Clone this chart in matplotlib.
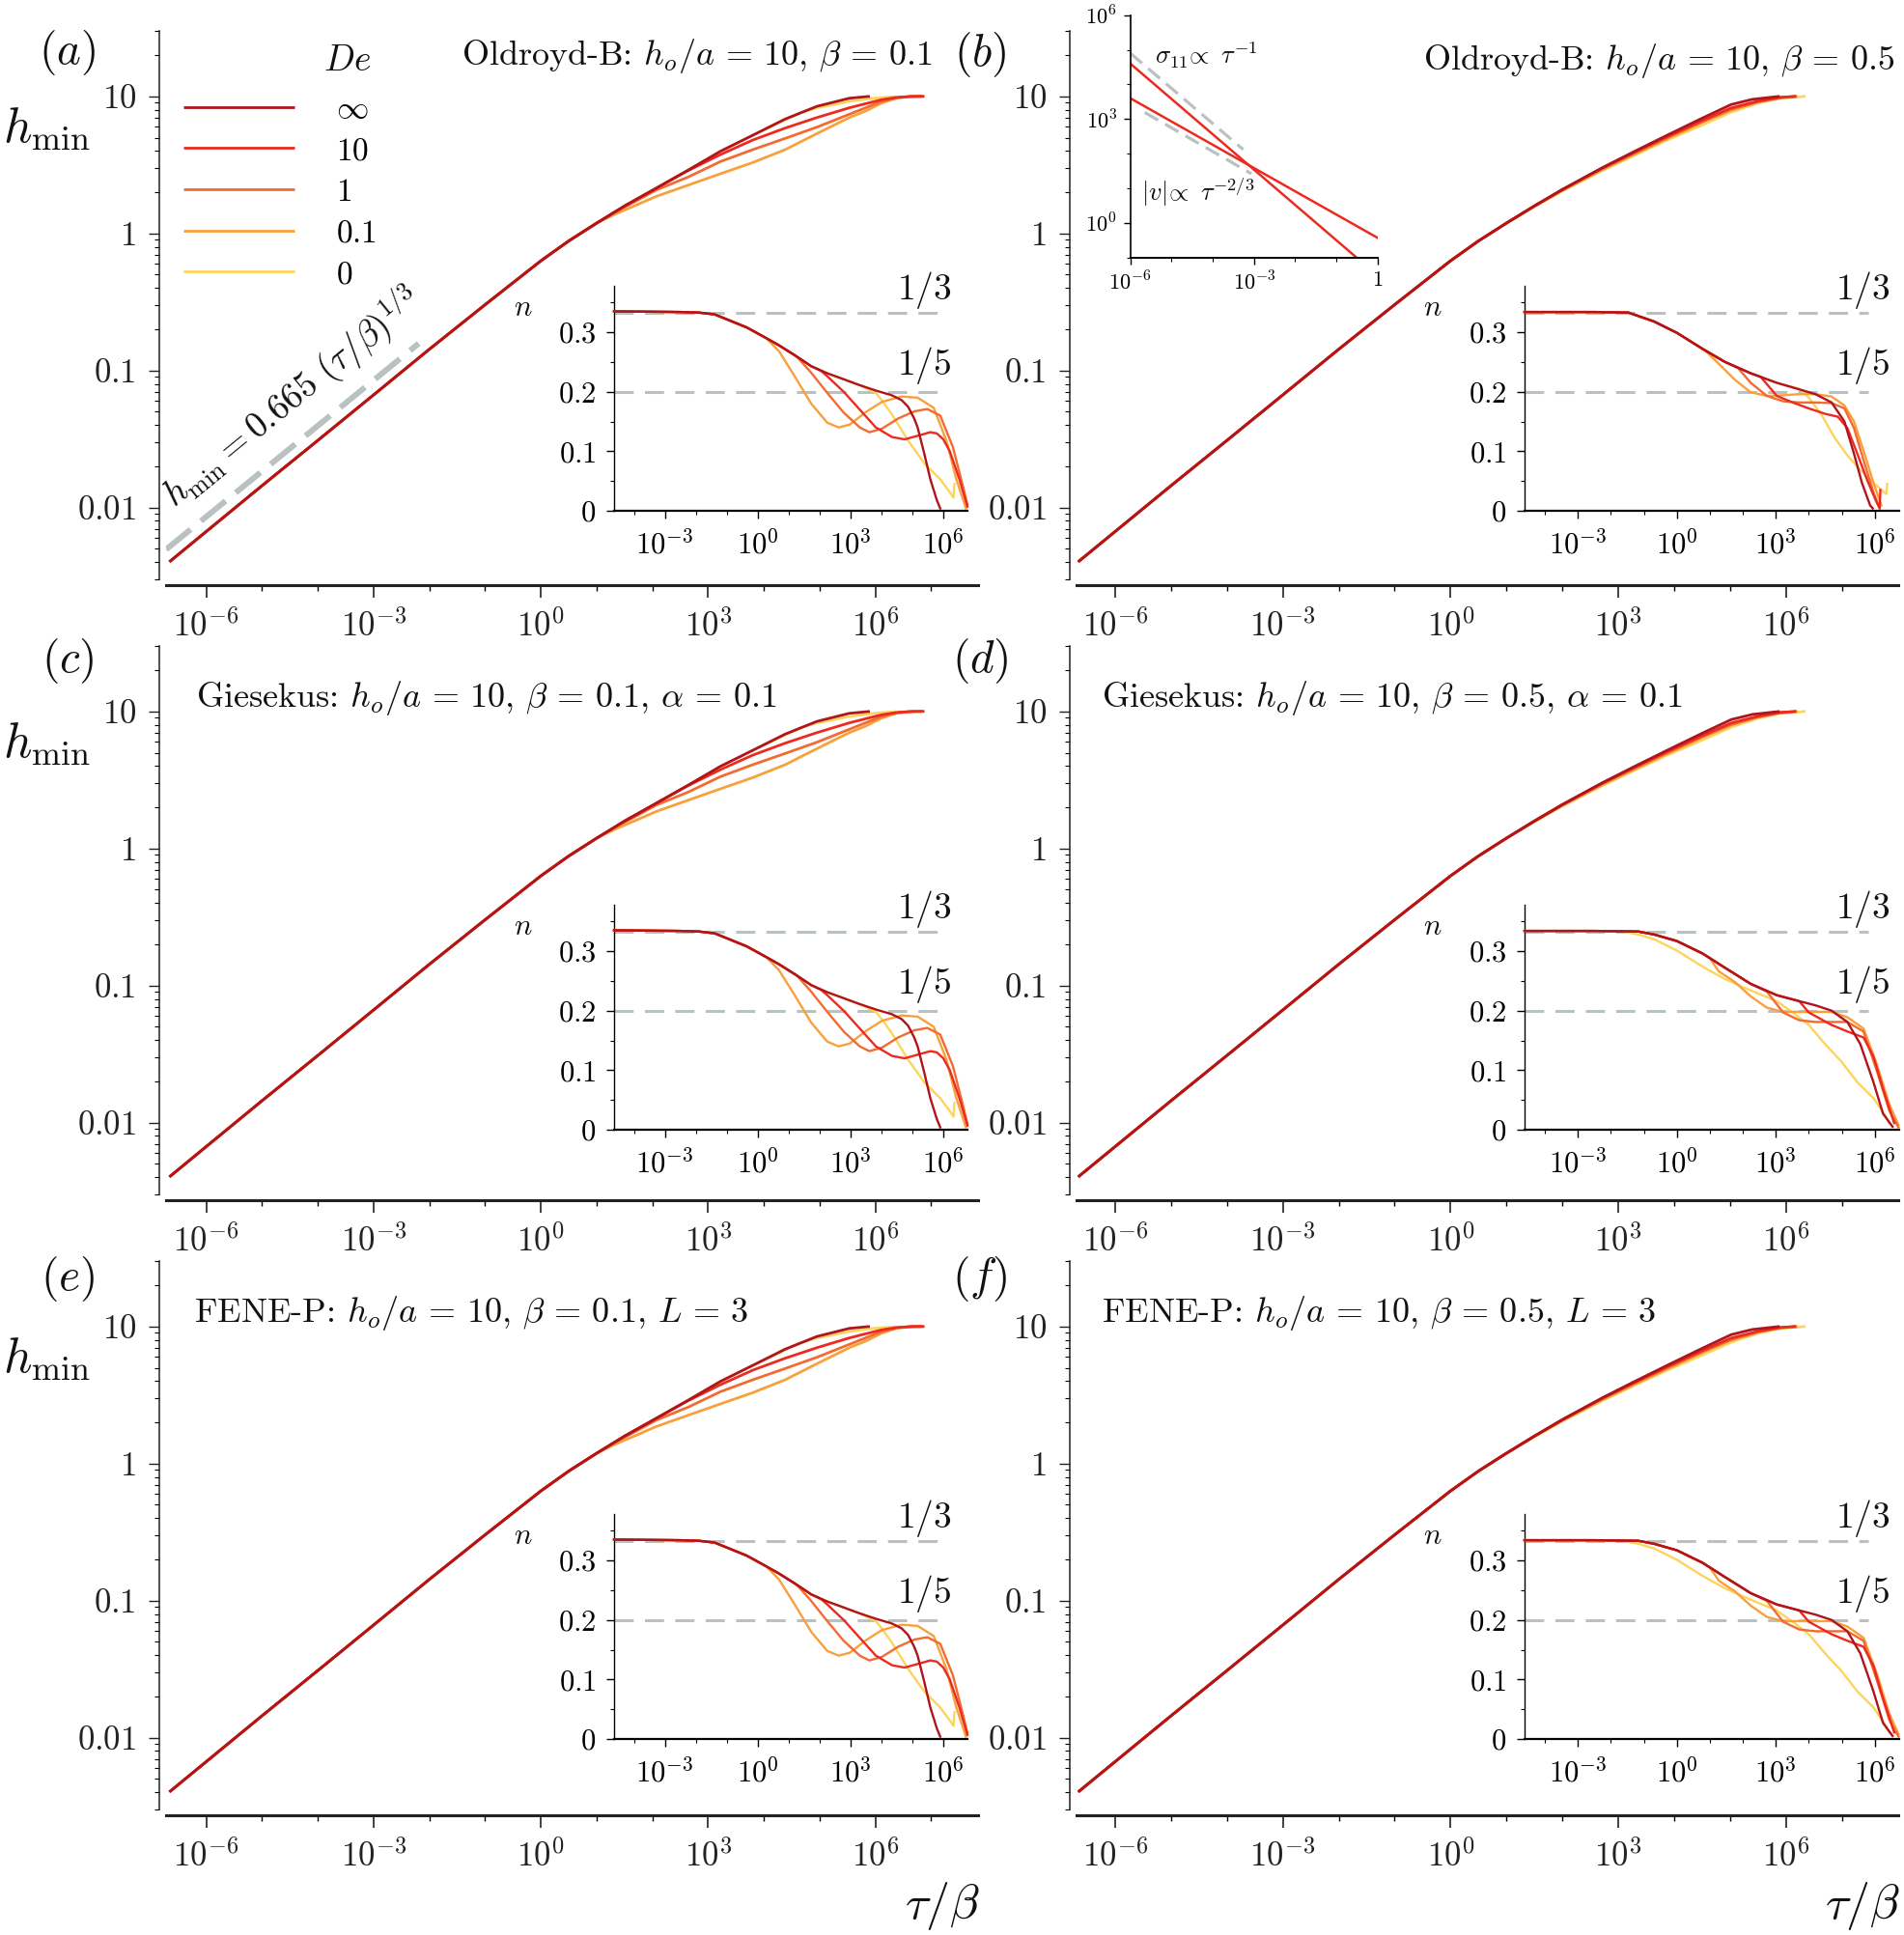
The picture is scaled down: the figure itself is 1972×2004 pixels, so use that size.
import numpy as np
import matplotlib
matplotlib.use("Agg")
import matplotlib.pyplot as plt
from matplotlib.ticker import NullFormatter

plt.rcParams['font.family'] = ['cmr10', 'DejaVu Serif']
plt.rcParams['mathtext.fontset'] = 'cm'
plt.rcParams['axes.formatter.use_mathtext'] = True

# ------------------------------------------------------------------
# DATA (log10 values)
# ------------------------------------------------------------------
de_labels = [r'$\infty$', r'$10$', r'$1$', r'$0.1$', r'$0$']
de_colors = ['#B0141C', '#EC2A1F', '#F36B30', '#F8A03A', '#FDD45C']

# main panels: h_min vs tau/beta, shared early part
lt_common = [-6.66, -5.0, -4.0, -3.0, -2.0, -1.0, 0.0, 0.5, 1.0]
lh_common = [-2.395, -1.84, -1.51, -1.178, -0.845, -0.52, -0.2, -0.055, 0.075]

# left column (beta = 0.1)
hL_t_inf = [1.5, 2.07, 2.6, 3.22, 3.8, 4.38, 4.95, 5.53, 5.9]
hL_h_inf = [0.2, 0.33, 0.452, 0.599, 0.716, 0.834, 0.927, 0.986, 1.0]
hL_t_10 = [1.5, 2.07, 2.6, 3.22, 3.8, 4.38, 4.95, 5.53, 5.82, 6.11, 6.39, 6.68, 6.88]
hL_h_10 = [0.2, 0.33, 0.45, 0.575, 0.681, 0.768, 0.845, 0.916, 0.946, 0.975, 0.993, 1.0, 1.0]
hL_t_1 = [1.3, 1.7, 2.07, 2.64, 3.22, 3.8, 4.38, 4.95, 5.53, 5.82, 6.11, 6.39, 6.6, 6.85]
hL_h_1 = [0.148, 0.235, 0.317, 0.411, 0.524, 0.611, 0.693, 0.775, 0.869, 0.916, 0.963, 0.99, 0.998, 1.0]
hL_t_01 = [1.3, 1.7, 2.07, 2.64, 3.22, 3.8, 4.38, 4.95, 5.53, 5.82, 6.11, 6.37, 6.6, 6.85]
hL_h_01 = [0.135, 0.205, 0.27, 0.352, 0.435, 0.517, 0.611, 0.728, 0.845, 0.892, 0.951, 0.986, 0.998, 1.0]
hL_t_0 = [1.5, 2.07, 2.6, 3.22, 3.8, 4.38, 4.66, 4.95, 5.24, 5.53, 5.82, 6.11, 6.37]
hL_h_0 = [0.2, 0.33, 0.452, 0.599, 0.716, 0.829, 0.881, 0.916, 0.939, 0.963, 0.979, 0.991, 0.998]

# right column (beta = 0.5)
hR_t_inf = [1.5, 2.0, 2.72, 3.3, 3.87, 4.5, 5.02, 5.4, 5.89]
hR_h_inf = [0.2, 0.32, 0.48, 0.6, 0.715, 0.84, 0.94, 0.978, 1.0]
hR_t_10 = [1.5, 2.0, 2.72, 3.3, 3.87, 4.5, 5.02, 5.5, 5.9, 6.18]
hR_h_10 = [0.2, 0.32, 0.478, 0.594, 0.705, 0.823, 0.915, 0.965, 0.993, 1.0]
hR_t_1 = [1.5, 2.0, 2.72, 3.3, 3.87, 4.5, 5.02, 5.5, 5.9, 6.2]
hR_h_1 = [0.2, 0.318, 0.474, 0.588, 0.698, 0.815, 0.905, 0.96, 0.99, 1.0]
hR_t_01 = [1.5, 2.0, 2.72, 3.3, 3.87, 4.5, 5.02, 5.5, 5.9, 6.2]
hR_h_01 = [0.197, 0.312, 0.465, 0.58, 0.69, 0.81, 0.9, 0.958, 0.99, 1.0]
hR_t_0 = [1.5, 2.0, 2.72, 3.3, 3.87, 4.5, 5.02, 5.5, 5.9, 6.35]
hR_h_0 = [0.195, 0.31, 0.46, 0.572, 0.68, 0.79, 0.885, 0.95, 0.985, 1.0]

# insets: local slope n vs tau/beta
# left column insets (a, c, e)
nL_head_t = [-4.64, -2.5, -1.9, -1.39, -0.87, -0.35, 0.0, 0.28]
nL_head_n = [0.335, 0.334, 0.333, 0.330, 0.319, 0.308, 0.298, 0.290]
nL_t_inf = [0.69, 1.21, 1.73, 2.25, 2.78, 3.30, 3.82, 4.34, 4.65, 4.86, 5.06, 5.17, 5.38, 5.58, 5.79, 5.90]
nL_n_inf = [0.278, 0.261, 0.243, 0.231, 0.221, 0.211, 0.202, 0.194, 0.186, 0.175, 0.155, 0.140, 0.097, 0.053, 0.018, 0.004]
nL_t_10 = [0.69, 1.21, 1.73, 2.05, 2.25, 2.78, 3.30, 3.82, 4.34, 4.75, 5.17, 5.58, 5.79, 6.0, 6.21, 6.52, 6.78]
nL_n_10 = [0.278, 0.261, 0.243, 0.235, 0.226, 0.200, 0.170, 0.140, 0.124, 0.120, 0.126, 0.132, 0.130, 0.120, 0.100, 0.053, 0.007]
nL_t_1 = [0.69, 1.21, 1.32, 1.73, 2.25, 2.78, 3.30, 3.61, 4.02, 4.54, 5.06, 5.48, 5.90, 6.31, 6.63, 6.78]
nL_n_1 = [0.278, 0.261, 0.256, 0.232, 0.198, 0.165, 0.140, 0.132, 0.138, 0.155, 0.167, 0.171, 0.160, 0.107, 0.042, 0.010]
nL_t_01 = [0.69, 1.21, 1.73, 2.25, 2.62, 2.98, 3.50, 4.02, 4.65, 5.17, 5.69, 6.10, 6.42, 6.73]
nL_n_01 = [0.268, 0.225, 0.180, 0.148, 0.140, 0.145, 0.166, 0.183, 0.192, 0.190, 0.173, 0.118, 0.053, 0.004]
nL_t_0 = [0.69, 1.21, 1.73, 2.25, 2.78, 3.30, 3.82, 4.02, 4.34, 4.86, 5.38, 5.90, 6.2, 6.33, 6.36]
nL_n_0 = [0.278, 0.261, 0.243, 0.231, 0.221, 0.211, 0.198, 0.185, 0.162, 0.118, 0.080, 0.053, 0.032, 0.022, 0.045]

# right column, top inset (b)
nB_head_t = [-4.62, -2.5, -1.47, -0.69, 0.0, 0.78]
nB_head_n = [0.334, 0.334, 0.333, 0.318, 0.299, 0.272]
nB_t_inf = [1.46, 2.24, 3.03, 3.71, 4.2, 4.69, 5.08, 5.37, 5.61, 5.86, 5.94]
nB_n_inf = [0.250, 0.231, 0.215, 0.204, 0.196, 0.182, 0.150, 0.096, 0.047, 0.009, 0.004]
nB_t_10 = [1.46, 2.24, 2.54, 3.03, 3.51, 4.0, 4.49, 4.88, 5.17, 5.47, 5.76, 6.05, 6.15, 6.17]
nB_n_10 = [0.250, 0.231, 0.225, 0.193, 0.182, 0.172, 0.163, 0.158, 0.139, 0.096, 0.053, 0.015, 0.004, 0.035]
nB_t_1 = [1.46, 1.85, 2.24, 2.73, 3.22, 3.71, 4.2, 4.69, 5.08, 5.37, 5.66, 5.96, 6.15]
nB_n_1 = [0.250, 0.240, 0.215, 0.193, 0.184, 0.182, 0.182, 0.181, 0.172, 0.139, 0.085, 0.031, 0.004]
nB_t_01 = [0.88, 1.27, 1.76, 2.24, 2.73, 3.22, 3.71, 4.2, 4.69, 5.08, 5.37, 5.66, 5.96, 6.2]
nB_n_01 = [0.268, 0.247, 0.220, 0.199, 0.193, 0.194, 0.196, 0.196, 0.192, 0.177, 0.150, 0.101, 0.047, 0.009]
nB_t_0 = [1.46, 2.24, 3.03, 3.71, 4.0, 4.39, 4.78, 5.17, 5.56, 5.96, 6.35, 6.38]
nB_n_0 = [0.250, 0.231, 0.215, 0.205, 0.190, 0.161, 0.123, 0.093, 0.069, 0.047, 0.028, 0.045]

# right column, lower insets (d, f)
nD_head_t = [-4.62, -2.5, -1.17, -0.69, 0.0, 0.78]
nD_head_n = [0.334, 0.334, 0.333, 0.328, 0.317, 0.296]
nD_t_inf = [1.46, 2.24, 3.03, 3.71, 4.2, 4.69, 5.17, 5.56, 5.96, 6.25, 6.54]
nD_n_inf = [0.272, 0.245, 0.226, 0.216, 0.209, 0.200, 0.181, 0.144, 0.080, 0.027, 0.005]
nD_t_10 = [1.46, 2.24, 3.03, 3.71, 4.0, 4.69, 5.17, 5.66, 5.96, 6.25, 6.59]
nD_n_10 = [0.272, 0.245, 0.226, 0.216, 0.197, 0.176, 0.165, 0.155, 0.123, 0.069, 0.011]
nD_t_1 = [1.46, 2.24, 2.73, 3.22, 3.71, 4.2, 4.69, 5.17, 5.66, 6.05, 6.44, 6.72]
nD_n_1 = [0.272, 0.245, 0.232, 0.197, 0.184, 0.181, 0.181, 0.181, 0.165, 0.101, 0.032, 0.004]
nD_t_01 = [1.0, 1.27, 1.76, 2.24, 2.73, 3.22, 3.71, 4.2, 4.69, 5.17, 5.66, 6.05, 6.44, 6.72]
nD_n_01 = [0.288, 0.266, 0.248, 0.224, 0.205, 0.198, 0.198, 0.198, 0.198, 0.189, 0.170, 0.112, 0.043, 0.008]
nD_t_0 = [-4.62, -2.5, -1.66, -1.17, -0.69, 0.0, 0.78, 1.46, 2.24, 3.03, 3.51, 4.0, 4.49, 4.98, 5.47, 5.96, 6.35, 6.44]
nD_n_0 = [0.334, 0.334, 0.333, 0.328, 0.320, 0.301, 0.274, 0.253, 0.234, 0.216, 0.197, 0.176, 0.144, 0.115, 0.080, 0.053, 0.021, 0.011]

n_levels = [1/3, 1/5]

# guide line in (a): h_min = 0.665 (tau/beta)^(1/3), drawn offset
guide_lt = [-6.72, -2.19]
guide_lh = [-2.305, -0.803]

# small inset in (b)
sig_lt = [-6.0, -0.51]
sig_lv = [4.6, -1.0]
vel_lt = [-6.0, 0.0]
vel_lv = [3.6, -0.43]
sig_guide_lt = [-6.0, -3.26]
sig_guide_lv = [4.9, 2.12]
vel_guide_lt = [-5.65, -3.06]
vel_guide_lv = [3.19, 1.42]

titles = [r'Oldroyd-B: $h_o/a\, =\, 10$, $\beta\, =\, 0.1$',
          r'Oldroyd-B: $h_o/a\, =\, 10$, $\beta\, =\, 0.5$',
          r'Giesekus: $h_o/a\, =\, 10$, $\beta\, =\, 0.1$, $\alpha\, =\, 0.1$',
          r'Giesekus: $h_o/a\, =\, 10$, $\beta\, =\, 0.5$, $\alpha\, =\, 0.1$',
          r'FENE-P: $h_o/a\, =\, 10$, $\beta\, =\, 0.1$, $L\, =\, 3$',
          r'FENE-P: $h_o/a\, =\, 10$, $\beta\, =\, 0.5$, $L\, =\, 3$']
panel_tags = ['(a)', '(b)', '(c)', '(d)', '(e)', '(f)']

# ------------------------------------------------------------------
# LAYOUT
# ------------------------------------------------------------------
W, H = 1972, 2004
fig = plt.figure(figsize=(W / 100, H / 100), dpi=100)


def px_rect(x0, y0, x1, y1):
    return [x0 / W, 1 - y1 / H, (x1 - x0) / W, (y1 - y0) / H]


def fxy(x, y):
    return x / W, 1 - y / H


main_cols = [(172, 1013), (1115, 1966)]
main_xlims = [(-6.72, 7.84), (-6.69, 8.01)]
row_top = [31.6, 668.6, 1305.6]
main_h = 568.4
inset_cols = [(636, 1002), (1579, 1967)]
inset_xlims = [(-4.64, 6.78), (-4.62, 6.74)]
inset_bottom = [529, 1170, 1801]
inset_h = 233

GRAY = '#BAC1C1'
TXT = '#111111'


def P(v):
    return 10.0 ** np.asarray(v, dtype=float)


def main_curves(col):
    if col == 0:
        tails = [(hL_t_inf, hL_h_inf), (hL_t_10, hL_h_10), (hL_t_1, hL_h_1),
                 (hL_t_01, hL_h_01), (hL_t_0, hL_h_0)]
    else:
        tails = [(hR_t_inf, hR_h_inf), (hR_t_10, hR_h_10), (hR_t_1, hR_h_1),
                 (hR_t_01, hR_h_01), (hR_t_0, hR_h_0)]
    return [(lt_common + list(t), lh_common + list(h)) for t, h in tails]


def inset_curves(col, row):
    if col == 0:
        ht, hn = nL_head_t, nL_head_n
        tails = [(nL_t_inf, nL_n_inf), (nL_t_10, nL_n_10), (nL_t_1, nL_n_1),
                 (nL_t_01, nL_n_01), (nL_t_0, nL_n_0)]
        return [(ht + t, hn + n) for t, n in tails]
    if row == 0:
        ht, hn = nB_head_t, nB_head_n
        tails = [(nB_t_inf, nB_n_inf), (nB_t_10, nB_n_10), (nB_t_1, nB_n_1),
                 (nB_t_01, nB_n_01), (nB_t_0, nB_n_0)]
        return [(ht + t, hn + n) for t, n in tails]
    ht, hn = nD_head_t, nD_head_n
    tails = [(nD_t_inf, nD_n_inf), (nD_t_10, nD_n_10), (nD_t_1, nD_n_1),
             (nD_t_01, nD_n_01)]
    out = [(ht + t, hn + n) for t, n in tails]
    out.append((nD_t_0, nD_n_0))
    return out


def style_main(ax, xl):
    ax.set_xscale('log')
    ax.set_yscale('log')
    ax.set_xlim(10 ** xl[0], 10 ** xl[1])
    ax.set_ylim(10 ** -2.523, 10 ** 1.48)
    for s in ['top', 'right']:
        ax.spines[s].set_visible(False)
    ax.spines['left'].set_position(('outward', 5.4))
    ax.spines['bottom'].set_position(('outward', 4.3))
    ax.spines['bottom'].set_linewidth(2.2)
    ax.spines['left'].set_linewidth(1.1)
    ax.spines['bottom'].set_color('#222222')
    ax.spines['left'].set_color('#222222')
    ax.set_xticks([1e-6, 1e-3, 1, 1e3, 1e6])
    ax.set_xticklabels([r'$10^{-6}$', r'$10^{-3}$', r'$10^{0}$', r'$10^{3}$', r'$10^{6}$'])
    ax.set_xticks([10.0 ** k for k in range(-6, 8)], minor=True)
    ax.xaxis.set_minor_formatter(NullFormatter())
    ax.set_yticks([0.01, 0.1, 1, 10])
    ax.set_yticklabels([r'$0.01$', r'$0.1$', r'$1$', r'$10$'])
    ymin = [m * 10.0 ** k for k in range(-3, 2) for m in range(2, 10)]
    ymin = [v for v in ymin if 10 ** -2.523 <= v <= 10 ** 1.48]
    ax.set_yticks(ymin, minor=True)
    ax.yaxis.set_minor_formatter(NullFormatter())
    ax.tick_params(axis='x', which='major', direction='out', length=9, width=1.2,
                   pad=9, labelsize=25, colors='#222222')
    ax.tick_params(axis='x', which='minor', direction='out', length=4, width=1.0)
    ax.tick_params(axis='y', which='major', direction='out', length=8, width=1.0,
                   pad=9, labelsize=25, colors='#222222')
    ax.tick_params(axis='y', which='minor', direction='out', length=3.5, width=0.8)


def style_inset(ax, xl):
    ax.set_xscale('log')
    ax.set_xlim(10 ** xl[0], 10 ** xl[1])
    ax.set_ylim(0, 0.378)
    for s in ['top', 'right']:
        ax.spines[s].set_visible(False)
    ax.spines['bottom'].set_linewidth(1.6)
    ax.spines['left'].set_linewidth(1.0)
    ax.set_xticks([1e-3, 1, 1e3, 1e6])
    ax.set_xticklabels([r'$10^{-3}$', r'$10^{0}$', r'$10^{3}$', r'$10^{6}$'])
    ax.set_xticks([10.0 ** k for k in range(-4, 7)], minor=True)
    ax.xaxis.set_minor_formatter(NullFormatter())
    ax.set_yticks([0, 0.1, 0.2, 0.3])
    ax.set_yticklabels([r'$0$', r'$0.1$', r'$0.2$', r'$0.3$'])
    ax.set_yticks([0.05, 0.15, 0.25, 0.35], minor=True)
    ax.tick_params(axis='both', which='major', direction='out', length=5.5, width=1.0,
                   pad=8, labelsize=22)
    ax.tick_params(axis='both', which='minor', direction='out', length=3, width=0.8)


for r in range(3):
    for c in range(2):
        k = 2 * r + c
        x0, x1 = main_cols[c]
        y0 = row_top[r]
        ax = fig.add_axes(px_rect(x0, y0, x1, y0 + main_h))
        style_main(ax, main_xlims[c])
        curves = main_curves(c)
        handles = [None] * 5
        for i in [4, 3, 2, 1, 0]:
            t, h = curves[i]
            ln, = ax.plot(P(t), P(h), color=de_colors[i], lw=2.0, label=de_labels[i],
                          solid_capstyle='butt', zorder=3 + (4 - i))
            handles[i] = ln
        if k == 0:
            ax.plot(P(guide_lt), P(guide_lh), color=GRAY, lw=4.3, dashes=(5.5, 2.3),
                    solid_capstyle='butt', dash_capstyle='butt', zorder=2)
            ax.text(10 ** -4.453, 10 ** -1.192, r'$h_{\rm min} = 0.665\ (\tau/\beta)^{1/3}$',
                    rotation=39.3, rotation_mode='anchor', ha='center', va='center',
                    fontsize=27, color=TXT)
            ax.legend(handles=handles, loc='upper left',
                      bbox_to_anchor=fxy(190, 99), bbox_transform=fig.transFigure,
                      frameon=False, handlelength=3.45, handletextpad=1.3,
                      borderpad=0, borderaxespad=0, labelspacing=0.4, fontsize=24)
            fig.text(*fxy(360, 63), r'$De$', fontsize=27, ha='center', va='center', color=TXT)

        # inset
        ix0, ix1 = inset_cols[c]
        iy1 = inset_bottom[r]
        axi = fig.add_axes(px_rect(ix0, iy1 - inset_h, ix1, iy1))
        style_inset(axi, inset_xlims[c])
        gx_end = 5.89 if c == 0 else 5.80
        for lev in n_levels:
            axi.plot(P([inset_xlims[c][0], gx_end]), [lev, lev], color=GRAY, lw=2.2,
                     dashes=(6.5, 3.8), zorder=1)
        icurves = inset_curves(c, r)
        for i in [4, 3, 2, 1, 0]:
            t, n = icurves[i]
            axi.plot(P(t), n, color=de_colors[i], lw=1.7, zorder=3 + (4 - i), clip_on=False)
        if c == 0:
            lab_x, n_x = 0.877, -0.257
        else:
            lab_x, n_x = 0.902, -0.246
        axi.text(lab_x, 0.98, r'$1/3$', transform=axi.transAxes, fontsize=27,
                 ha='center', va='center', color=TXT)
        axi.text(lab_x, 0.645, r'$1/5$', transform=axi.transAxes, fontsize=27,
                 ha='center', va='center', color=TXT)
        axi.text(n_x, 0.90, r'$n$', transform=axi.transAxes, fontsize=22,
                 ha='center', va='center', color=TXT)

# titles, panel labels, y labels
title_pos = [(478, 67), (1474, 72), (203, 732), (1141, 732), (201, 1369), (1141, 1369)]
for k in range(6):
    fig.text(*fxy(*title_pos[k]), titles[k], fontsize=26, ha='left', va='baseline', color=TXT)
tag_pos = [(70, 55), (1015, 57), (70, 685), (1015, 685), (70, 1325), (1015, 1325)]
for k in range(6):
    fig.text(*fxy(*tag_pos[k]), '$' + panel_tags[k] + '$', fontsize=34, ha='center',
             va='center', color=TXT)
for r in range(3):
    fig.text(*fxy(3, 134 + 637 * r), r'$h_{\rm min}$', fontsize=37, ha='left',
             va='center', color=TXT)
fig.text(*fxy(976, 1974), r'$\tau/\beta$', fontsize=36, ha='center', va='center', color=TXT)
fig.text(*fxy(1929, 1974), r'$\tau/\beta$', fontsize=36, ha='center', va='center', color=TXT)

# small inset in (b)
axs = fig.add_axes(px_rect(1170.7, 15.7, 1426.7, 266.7))
axs.set_xscale('log')
axs.set_yscale('log')
axs.set_xlim(1e-6, 1)
axs.set_ylim(0.1, 1e6)
for s in ['top', 'right']:
    axs.spines[s].set_visible(False)
axs.spines['left'].set_linewidth(1.2)
axs.spines['bottom'].set_linewidth(1.4)
axs.plot(P(sig_guide_lt), P(sig_guide_lv), color=GRAY, lw=2.3, dashes=(5, 2.6))
axs.plot(P(vel_guide_lt), P(vel_guide_lv), color=GRAY, lw=2.3, dashes=(5, 2.6))
axs.plot(P(sig_lt), P(sig_lv), color=de_colors[1], lw=1.8)
axs.plot(P(vel_lt), P(vel_lv), color=de_colors[1], lw=1.8)
axs.set_xticks([1e-6, 1e-3, 1])
axs.set_xticklabels([r'$10^{-6}$', r'$10^{-3}$', r'$1$'])
axs.set_xticks([10.0 ** k for k in range(-6, 1)], minor=True)
axs.xaxis.set_minor_formatter(NullFormatter())
axs.set_yticks([1, 1e3, 1e6])
axs.set_yticklabels([r'$10^{0}$', r'$10^{3}$', r'$10^{6}$'])
axs.set_yticks([10.0 ** k for k in range(-1, 7)], minor=True)
axs.yaxis.set_minor_formatter(NullFormatter())
axs.tick_params(axis='both', which='major', direction='out', length=5, width=1.0,
                pad=5, labelsize=16)
axs.tick_params(axis='both', which='minor', direction='out', length=3, width=0.8)
axs.text(0.10, 0.835, r'$\sigma_{11}\!\propto\ \tau^{-1}$', transform=axs.transAxes,
         fontsize=19, ha='left', va='center', color=TXT)
axs.text(0.045, 0.27, r'$|v|\!\propto\ \tau^{-2/3}$', transform=axs.transAxes,
         fontsize=19, ha='left', va='center', color=TXT)

fig.savefig('out.png', dpi=100)
